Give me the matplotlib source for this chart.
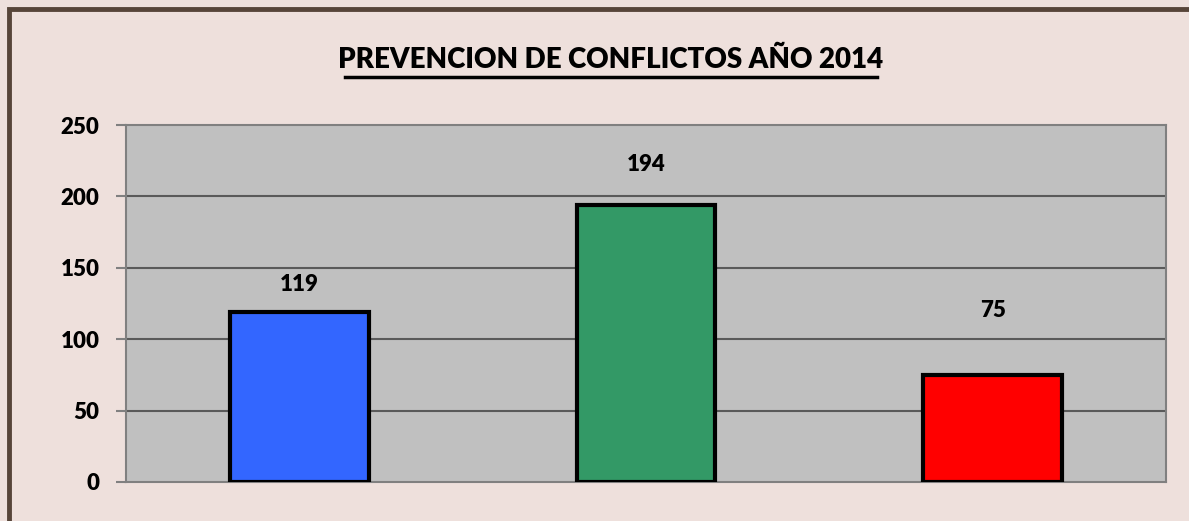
import numpy as np
import matplotlib.pyplot as plt
import matplotlib.patches as mpatches

# data
categories = ['A', 'B', 'C']
values     = [119, 194, 75]
colors     = ['#3366FF', '#339966', '#FF0000']
label_pos  = [138, 222, 120]   # where excel put the data labels (y units)
yticks     = [0, 50, 100, 150, 200, 250]

plt.rcParams['font.family'] = ['Lato', 'DejaVu Sans']
W = 'heavy'

fig = plt.figure(figsize=(11.89, 5.21), dpi=100)
fig.patch.set_facecolor('#EEE0DC')
ax = fig.add_axes([126/1189, 1 - 482/521, 1040/1189, 357/521])
ax.set_facecolor('#C0C0C0')

# outer frame (only left and top edges are visible in the picture)
fig.patches.append(mpatches.Rectangle((9/1189, -0.05), 1.1, 1.05 - 9/521,
                                      transform=fig.transFigure, fill=False,
                                      edgecolor='#574539', lw=3.5, zorder=0))

x = np.arange(len(categories))
ax.bar(x, values, width=0.4, color=colors, edgecolor='black', linewidth=3, zorder=3)
ax.set_xlim(-0.5, len(categories) - 0.5)
ax.set_ylim(0, 250)
ax.set_yticks(yticks)
ax.set_yticklabels([str(t) for t in yticks], fontsize=16, fontweight=W)
ax.set_xticks([])
ax.tick_params(axis='y', direction='out', length=7, width=1.5, color='#808080', pad=12)

for t in yticks[1:-1]:
  ax.axhline(t, color='#5A5A5A', lw=1.5, zorder=1)

for sp in ax.spines.values():
  sp.set_color('#808080')
  sp.set_linewidth(1.5)

for xi, v, ly in zip(x, values, label_pos):
  ax.text(xi, ly, str(v), ha='center', va='center', fontsize=16, fontweight=W, zorder=4)

fig.text(611/1189, 1 - 60/521, 'PREVENCION DE CONFLICTOS AÑO 2014', ha='center', va='center',
         fontsize=20, fontweight=W)
# underline
fig.add_artist(plt.Line2D([345/1189, 877/1189], [1 - 77/521, 1 - 77/521],
                          transform=fig.transFigure, color='black', lw=2.5))

fig.savefig('out.png', dpi=100, facecolor=fig.get_facecolor())
